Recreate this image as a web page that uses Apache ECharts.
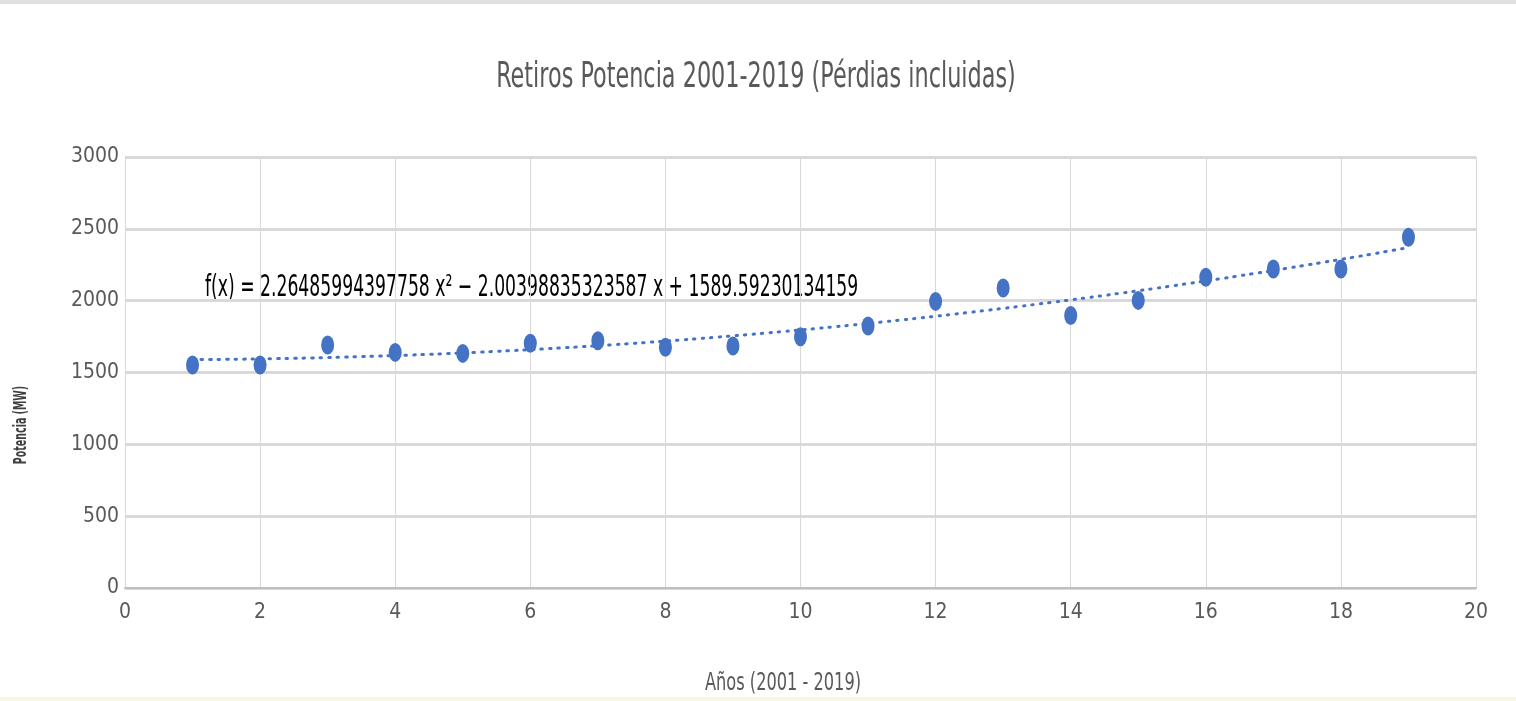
<!DOCTYPE html>
<html>
<head>
<meta charset="utf-8">
<script src="https://cdn.jsdelivr.net/npm/echarts@6/dist/echarts.min.js"></script>
<style>
  html, body { margin: 0; padding: 0; background: #fff; }
  #chart { width: 1516px; height: 701px; }
</style>
</head>
<body>
<div id="chart"></div>
<script>
// years 2001-2019 numbered 1..19
const years = [1, 2, 3, 4, 5, 6, 7, 8, 9, 10, 11, 12, 13, 14, 15, 16, 17, 18, 19];
// retiros de potencia (MW)
const potencia = [1552, 1552, 1691, 1640, 1633, 1703, 1721, 1675, 1684, 1749, 1824, 1995, 2088, 1897, 2002, 2163, 2220, 2220, 2442];
// polynomial trend coefficients shown on the chart
const trendCoef = [1589.59230134159, -2.00398835323587, 2.26485994397758];

const font = "'DejaVu Sans Condensed', sans-serif";

// trend line sampled along x from 1 to 19
const trendData = [];
for (let x = 1; x <= 19.001; x += 0.25) {
  trendData.push([x, trendCoef[0] + trendCoef[1] * x + trendCoef[2] * x * x]);
}

const chart = echarts.init(document.getElementById('chart'));
chart.setOption({
  animation: false,
  backgroundColor: '#fff',
  grid: { left: 125, right: 40, top: 157, bottom: 113 },
  xAxis: {
    type: 'value',
    min: 0, max: 20, interval: 2,
    axisLine: { show: true, lineStyle: { color: '#bfbfbf', width: 2 } },
    axisTick: { show: false },
    axisLabel: { fontFamily: font, fontSize: 21, color: '#595959', margin: 14 },
    splitLine: { show: true, lineStyle: { color: '#d9d9d9', width: 1 } }
  },
  yAxis: {
    type: 'value',
    min: 0, max: 3000, interval: 500,
    axisLine: { show: false },
    axisTick: { show: false },
    axisLabel: { fontFamily: font, fontSize: 21, color: '#595959', margin: 6, formatter: v => String(v) },
    splitLine: { show: true, lineStyle: { color: '#d9d9d9', width: 3 } }
  },
  graphic: [
    {
      type: 'text',
      x: 756, y: 78,
      scaleX: 0.71,
      style: {
        text: 'Retiros Potencia 2001-2019 (Pérdias incluidas)',
        font: '35px ' + font,
        fill: '#595959',
        align: 'center',
        verticalAlign: 'middle'
      }
    },
    {
      type: 'text',
      x: 205, y: 288,
      scaleX: 0.638,
      style: {
        text: 'f(x) = 2.26485994397758 x² − 2.00398835323587 x + 1589.59230134159',
        font: '30px ' + font,
        fill: '#000',
        align: 'left',
        verticalAlign: 'middle'
      }
    },
    {
      type: 'text',
      x: 783, y: 684,
      scaleX: 0.75,
      style: {
        text: 'Años (2001 - 2019)',
        font: '24px ' + font,
        fill: '#595959',
        align: 'center',
        verticalAlign: 'middle'
      }
    },
    {
      type: 'text',
      x: 22, y: 425,
      rotation: Math.PI / 2,
      scaleX: 0.62,
      style: {
        text: 'Potencia (MW)',
        font: 'bold 17px ' + font,
        fill: '#404040',
        align: 'center',
        verticalAlign: 'middle'
      }
    },
    {
      type: 'rect',
      shape: { x: 0, y: 0, width: 1516, height: 4 },
      style: { fill: '#e0e0e0' }
    },
    {
      type: 'rect',
      shape: { x: 0, y: 697, width: 1516, height: 4 },
      style: { fill: '#faf8e0' }
    }
  ],
  series: [
    {
      type: 'line',
      data: trendData,
      showSymbol: false,
      smooth: true,
      lineStyle: { color: '#4472c4', width: 3, type: [1.5, 7], cap: 'round' },
      silent: true,
      z: 2
    },
    {
      type: 'scatter',
      data: years.map((x, i) => [x, potencia[i]]),
      symbol: 'circle',
      symbolSize: [13, 19],
      itemStyle: { color: '#4472c4', opacity: 1 },
      z: 3
    }
  ]
});
</script>
</body>
</html>
